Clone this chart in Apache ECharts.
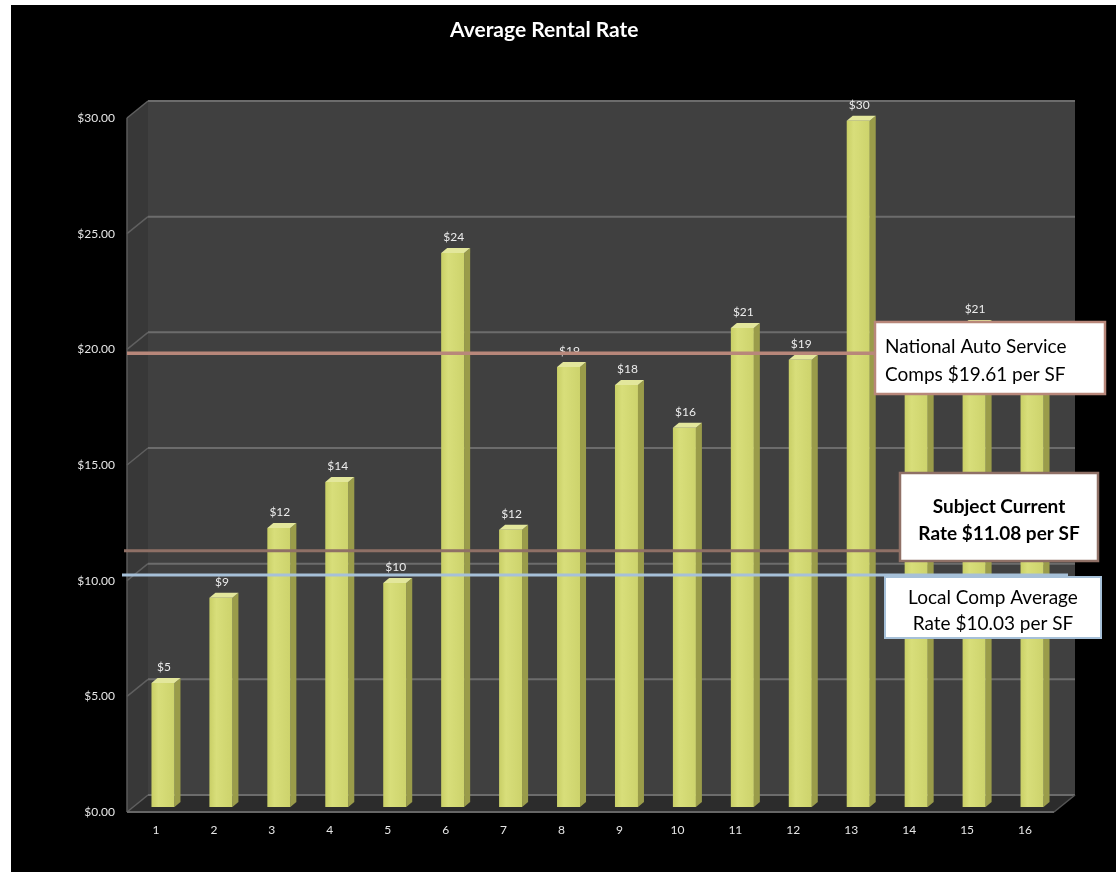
<!DOCTYPE html>
<html><head><meta charset="utf-8">
<script src="https://cdn.jsdelivr.net/npm/echarts@6/dist/echarts.min.js"></script>
<style>
html,body{margin:0;padding:0;background:#fff;width:1116px;height:872px;overflow:hidden}
#c{position:absolute;left:11px;top:5px;width:1105px;height:867px;background:#000}
</style></head><body><div id="c"></div>
<script>
// ---- data ----
const categories = ['1','2','3','4','5','6','7','8','9','10','11','12','13','14','15','16'];
const rentalRates = [5.36, 9.04, 12.06, 14.05, 9.68, 23.95, 11.98, 19.02, 18.24, 16.39, 20.71, 19.33, 29.66, 18.9, 20.84, 18.6];
const yTicks = [0, 5, 10, 15, 20, 25, 30];
const refValues = [19.61, 11.08, 10.03];
const refTexts = [
  'National Auto Service\nComps $19.61 per SF',
  'Subject Current\nRate $11.08 per SF',
  'Local Comp Average\nRate $10.03 per SF'
];
const chartTitle = 'Average Rental Rate';

// ---- styling / layout ----
const FONT = 'Lato, "Open Sans", sans-serif';
const WALL_D = [21, -17];
const BAR_SHIFT = [7, -5];
const BAR_D = [6, -5];
const BAR_W = 23;
const refStyles = [
  {color:'#b8877a', x0:116, x1:865, w:3.5},
  {color:'#8f7066', x0:113, x1:889, w:3},
  {color:'#a6c0d8', x0:111, x1:1057, w:3}
];

const chart = echarts.init(document.getElementById('c'), null, {renderer:'canvas'});

function wallsRender(params, api){
  const cs = params.coordSys;
  const x0 = cs.x, x1 = cs.x + cs.width, yT = cs.y, yB = cs.y + cs.height;
  const dx = WALL_D[0], dy = WALL_D[1];
  const ch = [];
  ch.push({type:'rect', shape:{x:x0+dx, y:yT+dy, width:cs.width, height:cs.height}, style:{fill:'#404040'}});
  ch.push({type:'polygon', shape:{points:[[x0,yB],[x0,yT],[x0+dx,yT+dy],[x0+dx,yB+dy]]}, style:{fill:'#383838'}});
  ch.push({type:'polygon', shape:{points:[[x0,yB],[x1,yB],[x1+dx,yB+dy],[x0+dx,yB+dy]]}, style:{fill:'#2c2c2c'}});
  yTicks.forEach(function(v){
    const y = api.coord([0, v])[1];
    ch.push({type:'line', shape:{x1:x0+dx, y1:y+dy, x2:x1+dx, y2:y+dy}, style:{stroke:'#6c6c6c', lineWidth:2}});
    ch.push({type:'line', shape:{x1:x0, y1:y, x2:x0+dx, y2:y+dy}, style:{stroke:'#606060', lineWidth:1.5}});
  });
  ch.push({type:'line', shape:{x1:x0, y1:yT, x2:x0, y2:yB}, style:{stroke:'#5a5a5a', lineWidth:1.5}});
  ch.push({type:'line', shape:{x1:x0, y1:yB, x2:x1, y2:yB}, style:{stroke:'#666', lineWidth:2}});
  ch.push({type:'line', shape:{x1:x1, y1:yB, x2:x1+dx, y2:yB+dy}, style:{stroke:'#555', lineWidth:1.5}});
  return {type:'group', children:ch};
}

function barRender(params, api){
  const i = api.value(0), v = api.value(1);
  const top = api.coord([i, v]), base = api.coord([i, 0]);
  const cx = top[0] + BAR_SHIFT[0];
  const yT = top[1] + BAR_SHIFT[1], yB = base[1] + BAR_SHIFT[1];
  const xl = cx - BAR_W/2, xr = cx + BAR_W/2;
  const ddx = BAR_D[0], ddy = BAR_D[1];
  return {type:'group', children:[
    {type:'polygon', shape:{points:[[xr,yB],[xr,yT],[xr+ddx,yT+ddy],[xr+ddx,yB+ddy]]}, style:{fill:'#9a9c4a'}},
    {type:'rect', shape:{x:xl, y:yT, width:BAR_W, height:yB-yT}, style:{fill:new echarts.graphic.LinearGradient(0,0,1,0,[
      {offset:0, color:'#c9cf66'},{offset:0.3, color:'#d8de7a'},{offset:1, color:'#cdd36c'}])}},
    {type:'polygon', shape:{points:[[xl,yT],[xr,yT],[xr+ddx,yT+ddy],[xl+ddx,yT+ddy]]}, style:{fill:'#e3e79c'}},
    {type:'text', style:{x:cx+1, y:yT-16, text:'$' + Math.round(v), fill:'#ececec', font:'12px ' + FONT, align:'center', verticalAlign:'middle'}}
  ]};
}

function refRender(params, api){
  const idx = params.dataIndex;
  const st = refStyles[idx];
  const y = api.coord([0, api.value(1)])[1] + BAR_SHIFT[1];
  return {type:'line', shape:{x1:st.x0, y1:y, x2:st.x1, y2:y}, style:{stroke:st.color, lineWidth:st.w}};
}

const option = {
  backgroundColor:'#000',
  animation:false,
  title:{text:chartTitle, left:439, top:15, padding:0, textStyle:{color:'#fff', fontSize:21, fontWeight:'bold', fontFamily:FONT}},
  grid:{left:116, width:927, top:113, bottom:60},
  xAxis:{type:'category', data:categories, axisLine:{show:false}, axisTick:{show:false},
    axisLabel:{color:'#e6e6e6', fontSize:12, fontFamily:FONT, margin:12}},
  yAxis:{type:'value', min:0, max:30, interval:5, splitLine:{show:false}, axisLine:{show:false},
    axisLabel:{color:'#e6e6e6', fontSize:12, fontFamily:FONT, margin:12, formatter:function(v){return '$' + v.toFixed(2);}}},
  series:[
    {type:'custom', name:'walls', renderItem:wallsRender, data:[[0,0]], clip:false, z:1, silent:true},
    {type:'custom', name:'Average Rental Rate', renderItem:barRender, data:rentalRates.map(function(v,i){return [i,v];}), clip:false, z:2},
    {type:'custom', name:'refs', renderItem:refRender, data:refValues.map(function(v){return [0,v];}), clip:false, z:3}
  ],
  graphic:[
    {type:'rect', z:100, shape:{x:864, y:317, width:230, height:72}, style:{fill:'#fff', stroke:'#b8877a', lineWidth:2.5}},
    {type:'text', z:101, style:{x:874, y:356, text:refTexts[0], fill:'#000', font:'19px ' + FONT, align:'left', verticalAlign:'middle', lineHeight:28}},
    {type:'rect', z:100, shape:{x:889, y:468, width:198, height:88}, style:{fill:'#fff', stroke:'#8f7066', lineWidth:2.5}},
    {type:'text', z:101, style:{x:988, y:515, text:refTexts[1], fill:'#000', font:'bold 19px ' + FONT, align:'center', verticalAlign:'middle', lineHeight:27}},
    {type:'rect', z:100, shape:{x:874, y:572, width:216, height:61}, style:{fill:'#fff', stroke:'#a6c0d8', lineWidth:2}},
    {type:'text', z:101, style:{x:982, y:606, text:refTexts[2], fill:'#000', font:'19px ' + FONT, align:'center', verticalAlign:'middle', lineHeight:26}}
  ]
};
chart.setOption(option);
</script></body></html>
